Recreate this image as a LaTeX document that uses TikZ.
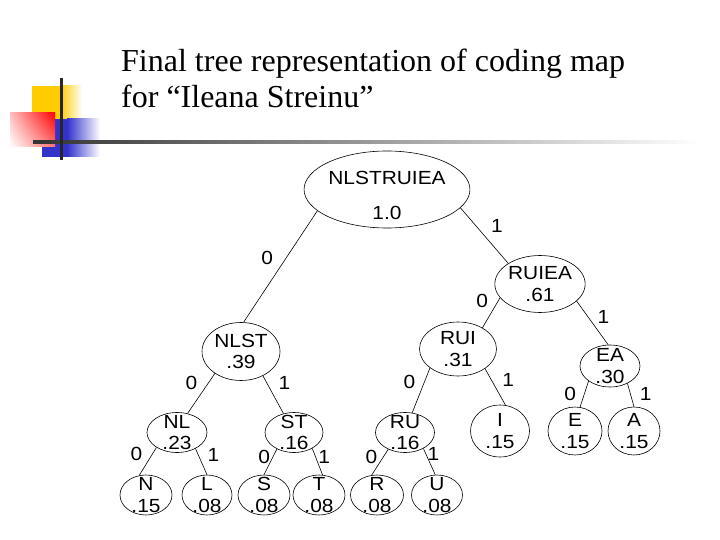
\documentclass[tikz,border=0pt]{standalone}
\usepackage{fontspec}
\setmainfont{Liberation Serif}
\newfontfamily\treefont[FakeStretch=1.1]{Liberation Sans}
\usepackage{tikz}
\usetikzlibrary{positioning}
\usetikzlibrary{shapes.geometric,shadings}
\definecolor{slideyellow}{RGB}{255,204,0}
\definecolor{slideblue}{RGB}{51,51,204}
\definecolor{slidered}{RGB}{255,0,0}

\begin{document}
\begin{tikzpicture}[x=1pt,y=-1pt]
	\useasboundingbox (0,0) rectangle (720,540);

	% slide decoration
	\fill[slideyellow] (32,86) rectangle (60,120);
	\shade[left color=slideyellow, right color=white] (60,86) rectangle (82,120);
	\fill[slideblue] (42,119) rectangle (67,157);
	\shade[left color=slideblue, right color=white] (67,119) rectangle (100,157);
	\shade[upper right=slidered, lower right=slidered!55, upper left=slidered!25, lower left=white] (10,113) rectangle (55,147);
	\shade[left color=black!80, right color=white] (33,140.5) rectangle (700,143.5);
	\draw[line width=3pt, black!85] (61,78) -- (61,160);

	% title
	\node[anchor=base west, inner sep=0pt, font=\fontsize{32}{36}\selectfont] (title1) at (121,72) {Final tree representation of coding map};
	\node[anchor=base west, inner sep=0pt, font=\fontsize{32}{36}\selectfont] (title2) at (121,108) {for “Ileana Streinu”};

	\begin{scope}[every node/.style={ellipse, draw, line width=0.6pt, align=center,
	              inner xsep=0pt, inner ysep=-12pt, font=\treefont\fontsize{19}{21.6}\selectfont}]
	    \node[minimum width=160, minimum height=77] (root) at (387,189.5) {\rule{0pt}{25pt}NLSTRUIEA\\[13pt]1.0};
	    \node[minimum width=86, minimum height=57] (ruiea) at (540,284) {RUIEA\\.61};
	    \node[minimum width=78, minimum height=58] (nlst) at (241,351.5) {NLST\\.39};
	    \node[minimum width=77, minimum height=54] (rui) at (458,349) {RUI\\.31};
	    \node[minimum width=60, minimum height=42] (ea) at (610,366) {EA\\.30};
	    \node[minimum width=60, minimum height=40] (nl) at (177,432.5) {NL\\.23};
	    \node[minimum width=58, minimum height=40] (st) at (294,432.5) {ST\\.16};
	    \node[minimum width=59, minimum height=40] (ru) at (405,432.5) {RU\\.16};
	    \node[minimum width=59, minimum height=52] (i) at (500,431) {I\\.15};
	    \node[minimum width=54, minimum height=48] (e) at (575,431) {E\\.15};
	    \node[minimum width=52, minimum height=48] (a) at (634,431) {A\\.15};
	    \node[minimum width=52, minimum height=40] (n) at (146,495) {N\\.15};
	    \node[minimum width=50, minimum height=40] (l) at (207,495) {L\\.08};
	    \node[minimum width=52, minimum height=40] (s) at (264,495) {S\\.08};
	    \node[minimum width=52, minimum height=40] (t) at (319,495) {T\\.08};
	    \node[minimum width=53, minimum height=40] (r) at (377,495) {R\\.08};
	    \node[minimum width=51, minimum height=40] (u) at (437,495) {U\\.08};
	\end{scope}

	\begin{scope}[every edge/.style={draw=black, line width=0.6pt},
	              every node/.style={inner sep=0pt, font=\treefont\fontsize{19}{21.6}\selectfont}]
    	\path (root.197) edge node[pos=0.42, left=13pt] {0} (nlst.85);
    	\path (root.346) edge node[pos=0.32, right=15pt] {1} (ruiea.147);
    	\path (ruiea.199) edge node[pos=0.1, left=10pt] {0} (rui.41);
    	\path (ruiea.335) edge node[pos=0.37, right=9pt] {1} (ea.95);
    	\path (nlst.220) edge node[pos=0.25, left=10.5pt] {0} (nl.61);
    	\path (nlst.312) edge node[pos=0.19, right=11.5pt] {1} (st.119);
    	\path (rui.214) edge node[pos=0.31, left=9pt] {0} (ru.70);
    	\path (rui.324) edge node[pos=0.32, right=10.5pt] {1} (i.78);
    	\path (ea.215) edge node[pos=0.5, left=8pt] {0} (e.78);
    	\path (ea.315) edge node[pos=0.46, right=9pt] {1} (a.90);
    	\path (nl.216) edge node[pos=0.25, left=9.5pt] {0} (n.109);
    	\path (nl.319) edge node[pos=0.25, right=9pt] {1} (l.90);
    	\path (st.224) edge node[pos=0.31, left=2.5pt] {0} (s.90);
    	\path (st.319) edge node[pos=0.31, right=2.5pt] {1} (t.80);
    	\path (ru.225) edge node[pos=0.29, left=6pt] {0} (r.105);
    	\path (ru.319) edge node[pos=0.21, right=1.5pt] {1} (u.95);
	\end{scope}
\end{tikzpicture}
\end{document}
